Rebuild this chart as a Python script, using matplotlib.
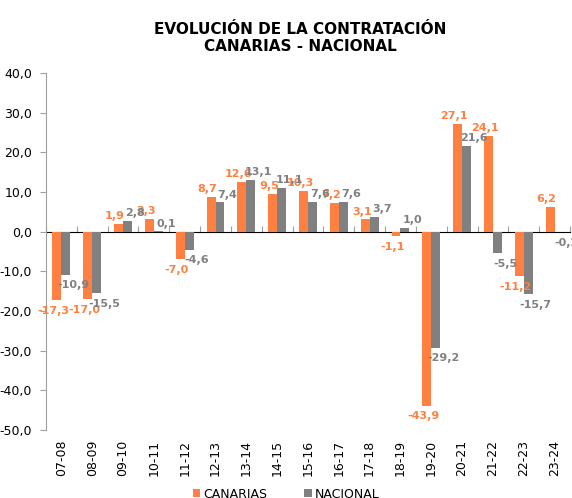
import matplotlib
matplotlib.use("Agg")
import matplotlib.pyplot as plt
import numpy as np
from matplotlib.ticker import FuncFormatter, FixedLocator, NullFormatter

categories = ["07-08", "08-09", "09-10", "10-11", "11-12", "12-13", "13-14", "14-15",
              "15-16", "16-17", "17-18", "18-19", "19-20", "20-21", "21-22", "22-23", "23-24"]
canarias = [-17.3, -17.0, 1.9, 3.3, -7.0, 8.7, 12.6, 9.5, 10.3, 7.2, 3.1, -1.1, -43.9, 27.1, 24.1, -11.2, 6.2]
nacional = [-10.9, -15.5, 2.8, 0.1, -4.6, 7.4, 13.1, 11.1, 7.6, 7.6, 3.7, 1.0, -29.2, 21.6, -5.5, -15.7, -0.2]

ORANGE = "#FF8040"
GRAY = "#808080"

plt.rcParams['font.family'] = ['DejaVu Sans']
plt.rcParams['axes.unicode_minus'] = False
fig = plt.figure(figsize=(5.72, 4.98), dpi=100)
ax = fig.add_axes([0.0804, 0.1365, 0.9161, 0.7169])

x = np.arange(len(categories))
w = 0.29
b1 = ax.bar(x - w / 2, canarias, w, color=ORANGE, label="CANARIAS", zorder=2)
b2 = ax.bar(x + w / 2, nacional, w, color=GRAY, label="NACIONAL", zorder=2)

ymin, ymax = -50, 40
ax.set_ylim(ymin, ymax)
ax.set_xlim(-0.5, len(categories) - 0.5)

fmt = lambda v: f"{v:.1f}".replace(".", ",")
for xi, v in zip(x, canarias):
    ax.annotate(fmt(v), (xi - w / 2, v), xytext=(-2.5, 2 if v >= 0 else -4),
                textcoords="offset points", ha="center",
                va="bottom" if v >= 0 else "top", color=ORANGE,
                fontsize=8, fontweight="bold")
for xi, v in zip(x, nacional):
    ax.annotate(fmt(v), (xi + w / 2, v), xytext=(5.5, 2 if v >= 0 else -4),
                textcoords="offset points", ha="center",
                va="bottom" if v >= 0 else "top", color=GRAY,
                fontsize=8, fontweight="bold")

# y axis
ax.set_yticks(np.arange(ymin, ymax + 1, 10))
ax.yaxis.set_major_formatter(FuncFormatter(lambda v, p: fmt(v)))
ax.tick_params(axis="y", direction="out", length=4, color="#A0A0A0", labelsize=9,
               labelcolor="#000000", pad=6)
for s in ["top", "right", "bottom"]:
    ax.spines[s].set_visible(False)
ax.spines["left"].set_color("#A0A0A0")

# category labels at the bottom
ax.set_xticks(x)
ax.set_xticklabels(categories, rotation=90, fontsize=9)
ax.tick_params(axis="x", length=0, pad=7)

# zero axis line with boundary ticks
sec = ax.secondary_xaxis((0 - ymin) / (ymax - ymin))
sec.spines["bottom"].set_color("#A0A0A0")
sec.xaxis.set_major_locator(FixedLocator(np.arange(-0.5, len(categories), 1.0)))
sec.xaxis.set_major_formatter(NullFormatter())
sec.tick_params(axis="x", direction="out", length=4, color="#A0A0A0")

fig.text(0.525, 0.955, "EVOLUCIÓN DE LA CONTRATACIÓN\nCANARIAS - NACIONAL",
         ha="center", va="top", fontsize=11, fontweight="bold", linespacing=1.15)

leg = fig.legend(handles=[b1, b2], labels=["CANARIAS", "NACIONAL"], loc="center",
                 bbox_to_anchor=(0.5, 0.008), ncol=2, frameon=False, fontsize=9,
                 handlelength=0.6, handleheight=0.6, handletextpad=0.2, columnspacing=3.0)

fig.savefig("out.png", dpi=100)
